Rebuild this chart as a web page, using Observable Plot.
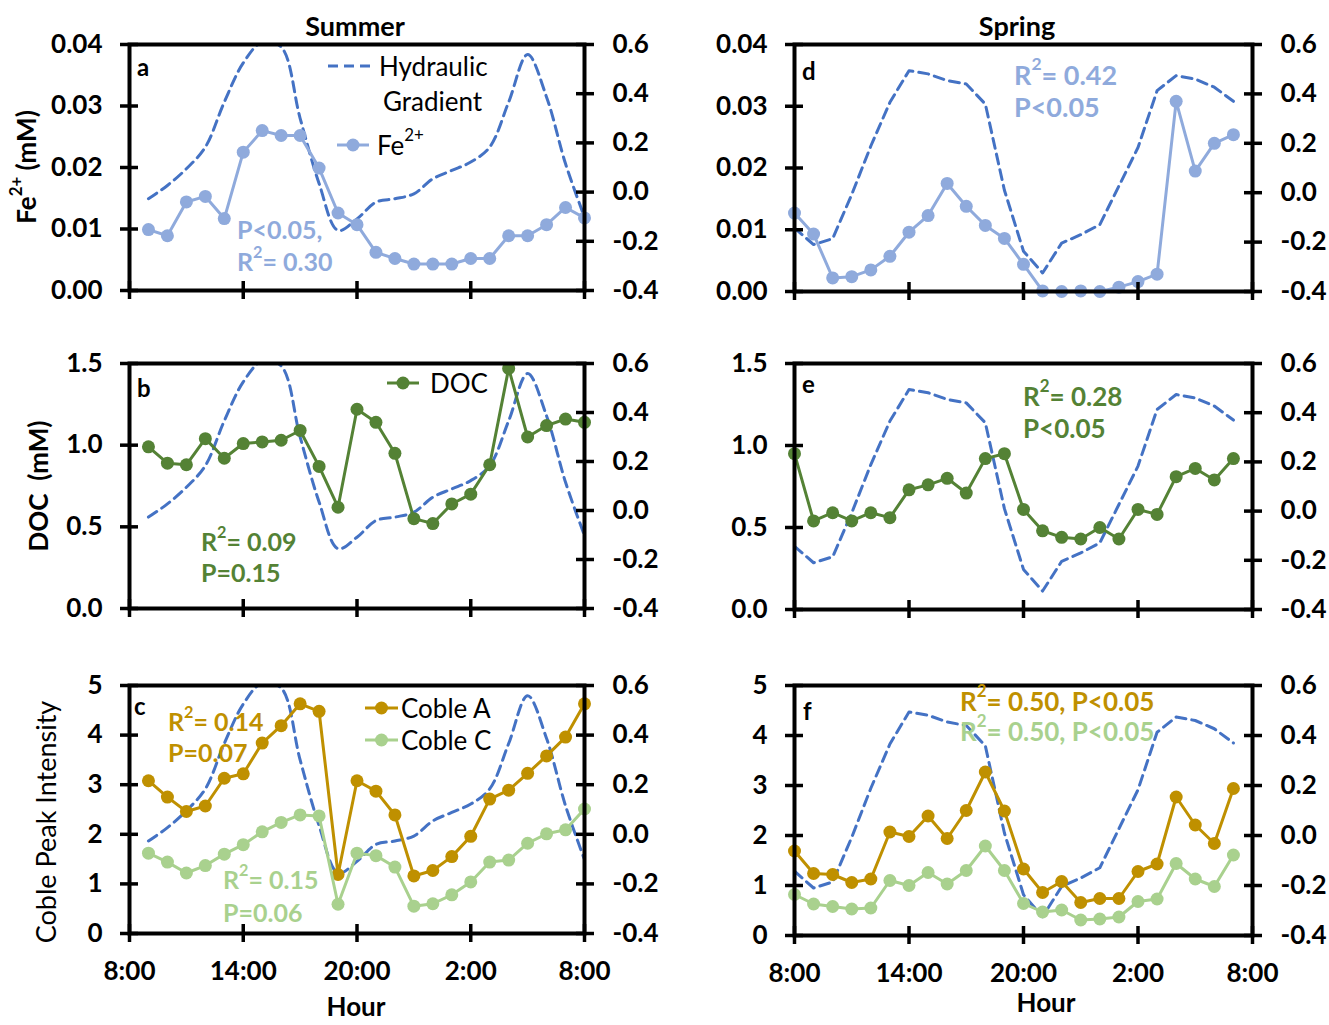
<!DOCTYPE html>
<html><head><meta charset="utf-8">
<script src="https://cdn.jsdelivr.net/npm/d3@7"></script>
<script src="https://cdn.jsdelivr.net/npm/@observablehq/plot@0.6"></script>
<style>
body{margin:0;background:#fff;}
#fig{position:relative;width:1329px;height:1025px;font-family:Lato,sans-serif;background:#fff;overflow:hidden;}
#fig svg{position:absolute;overflow:visible;}
</style></head><body><div id="fig"></div>
<script>
// ---------- data ----------
const summerHours = [9,10,11,12,13,14,15,16,17,18,19,20,21,22,23,24,25,26,27,28,29,30,31,32];
const springHours = [8,9,10,11,12,13,14,15,16,17,18,19,20,21,22,23,24,25,26,27,28,29,30,31];
const xTickHours = [8,14,20,26,32];
const hgTicks = [-0.4,-0.2,0,0.2,0.4,0.6];

const summerHG = [-0.027,0.027,0.095,0.183,0.366,0.525,0.61,0.59,0.30,0.035,-0.156,-0.109,-0.041,-0.027,-0.007,0.054,0.088,0.122,0.183,0.366,0.559,0.386,0.115,-0.102];
const springHG = [-0.143,-0.210,-0.186,-0.007,0.189,0.366,0.494,0.481,0.454,0.440,0.359,0.010,-0.237,-0.325,-0.204,-0.170,-0.129,0.027,0.183,0.413,0.474,0.460,0.427,0.370];

const summerFe = [0.0099,0.0089,0.0144,0.0153,0.0117,0.0225,0.0260,0.0252,0.0252,0.0199,0.0126,0.0107,0.0062,0.0052,0.0043,0.0043,0.0043,0.0052,0.0052,0.0089,0.0089,0.0107,0.0135,0.0118];
const springFe = [0.0127,0.0093,0.0022,0.0024,0.0035,0.0057,0.0096,0.0123,0.0175,0.0138,0.0107,0.0086,0.0044,0.0001,0.0000,0.0001,0.0000,0.0007,0.0016,0.0028,0.0308,0.0195,0.0240,0.0254];

const summerDOC = [0.99,0.89,0.88,1.04,0.92,1.01,1.02,1.03,1.09,0.87,0.62,1.22,1.14,0.95,0.55,0.52,0.64,0.70,0.88,1.47,1.05,1.12,1.16,1.14];
const springDOC = [0.95,0.54,0.59,0.54,0.59,0.56,0.73,0.76,0.80,0.71,0.92,0.95,0.61,0.48,0.44,0.43,0.50,0.43,0.61,0.58,0.81,0.86,0.79,0.92];

const summerCobleA = [3.08,2.75,2.46,2.57,3.13,3.22,3.84,4.19,4.63,4.48,1.19,3.08,2.87,2.39,1.16,1.27,1.55,1.96,2.71,2.89,3.23,3.58,3.96,4.63];
const summerCobleC = [1.62,1.44,1.22,1.37,1.60,1.79,2.05,2.24,2.39,2.37,0.59,1.62,1.57,1.34,0.55,0.60,0.78,1.04,1.44,1.48,1.82,2.01,2.09,2.51];
const springCobleA = [1.69,1.24,1.22,1.06,1.13,2.07,1.98,2.39,1.94,2.50,3.27,2.49,1.33,0.86,1.08,0.66,0.74,0.74,1.28,1.43,2.77,2.21,1.84,2.94];
const springCobleC = [0.82,0.63,0.58,0.53,0.55,1.10,1.00,1.26,1.03,1.30,1.79,1.30,0.64,0.47,0.51,0.31,0.33,0.37,0.68,0.73,1.44,1.13,0.98,1.61];

const feTicks = [0,0.01,0.02,0.03,0.04];
const docTicks = [0,0.5,1.0,1.5];
const cobleTicks = [0,1,2,3,4,5];

const C = {hg:"#4472C4", fe:"#8FAADC", doc:"#548235", a:"#BF9000", c:"#A9D18E"};

// ---------- panels ----------
const fig = document.getElementById("fig");
const FONT = "Lato, 'Open Sans', sans-serif";
const TICKFS = 26;
const blank = () => "";

function panel(o) {
  const yMax = o.yMax;
  const toLeft = v => (v - hgTicks[0]) / (hgTicks[hgTicks.length-1] - hgTicks[0]) * yMax;
  const fromLeft = d => d / yMax * (hgTicks[hgTicks.length-1] - hgTicks[0]) + hgTicks[0];
  const hgData = o.hours.map((h,i) => ({h, v: toLeft(o.hg[i])}));
  const marks = [
    Plot.line(hgData, {x:"h", y:"v", stroke:C.hg, strokeWidth:3, strokeDasharray:"10,6", curve:o.curve, clip:true})
  ];
  for (const s of o.series) {
    const data = o.hours.map((h,i) => ({h, v: s.values[i]}));
    marks.push(Plot.line(data, {x:"h", y:"v", stroke:s.color, strokeWidth:3}));
    marks.push(Plot.dot(data, {x:"h", y:"v", r:6.5, fill:s.color, stroke:null}));
  }
  const rTicks = hgTicks.map(toLeft);
  const tickStyle = {strokeWidth:3.5, stroke:"black", label:null, tickFormat:blank};
  const textStyle = {tickSize:0, label:null, fontSize:TICKFS, fontWeight:"bold", fill:"black"};
  marks.push(
    Plot.frame({stroke:"black", strokeWidth:4}),
    Plot.axisY({anchor:"left", ticks:o.yTicks, tickSize:18, dx:9, ...tickStyle}),
    Plot.axisY({anchor:"left", ticks:o.yTicks, tickFormat:o.yFmt, tickPadding:27, ...textStyle}),
    Plot.axisY({anchor:"right", ticks:rTicks, tickSize:18, dx:-9, ...tickStyle}),
    Plot.axisY({anchor:"right", ticks:rTicks, tickFormat:d => (Math.round(fromLeft(d)*10)/10).toFixed(1), tickPadding:28, ...textStyle}),
    Plot.axisX({anchor:"bottom", ticks:xTickHours, tickSize:18, dy:-9, ...tickStyle})
  );
  if (o.xLabels) {
    marks.push(Plot.axisX({anchor:"bottom", ticks:xTickHours, tickFormat:d => `${d % 24}:00`, tickPadding:28, ...textStyle}));
  }
  const el = Plot.plot({
    width:o.w, height:o.h,
    marginLeft:o.fx0 - o.left, marginRight:o.left + o.w - o.fx1,
    marginTop:o.fy0 - o.top, marginBottom:o.top + o.h - o.fy1,
    x:{domain:[8,32]},
    y:{domain:[0,yMax]},
    style:{fontFamily:FONT, fontSize:TICKFS + "px", color:"black", background:"transparent", overflow:"visible"},
    marks
  });
  el.style.left = o.left + "px";
  el.style.top = o.top + "px";
  fig.appendChild(el);
}

const f2 = d3.format(".2f"), f1 = d3.format(".1f"), f0 = d3.format("d");
const L = {left:0, w:665, fx0:129, fx1:584};
const R = {left:665, w:664, fx0:794, fx1:1252};

panel({...L, top:0, h:330, fy0:44, fy1:290, hours:summerHours, hg:summerHG, curve:"catmull-rom", yMax:0.04, yTicks:feTicks, yFmt:f2, series:[{values:summerFe, color:C.fe}]});
panel({...L, top:330, h:310, fy0:363, fy1:608, hours:summerHours, hg:summerHG, curve:"catmull-rom", yMax:1.5, yTicks:docTicks, yFmt:f1, series:[{values:summerDOC, color:C.doc}]});
panel({...L, top:640, h:385, fy0:685, fy1:933, hours:summerHours, hg:summerHG, curve:"catmull-rom", yMax:5, yTicks:cobleTicks, yFmt:f0, xLabels:true, series:[{values:summerCobleA, color:C.a},{values:summerCobleC, color:C.c}]});
panel({...R, top:0, h:330, fy0:44, fy1:291, hours:springHours, hg:springHG, curve:"linear", yMax:0.04, yTicks:feTicks, yFmt:f2, series:[{values:springFe, color:C.fe}]});
panel({...R, top:330, h:310, fy0:363, fy1:609, hours:springHours, hg:springHG, curve:"linear", yMax:1.5, yTicks:docTicks, yFmt:f1, series:[{values:springDOC, color:C.doc}]});
panel({...R, top:640, h:385, fy0:685, fy1:935, hours:springHours, hg:springHG, curve:"linear", yMax:5, yTicks:cobleTicks, yFmt:f0, xLabels:true, series:[{values:springCobleC, color:C.c},{values:springCobleA, color:C.a}]});

// ---------- overlay text: titles, axis labels, legends, annotations ----------
const ov = d3.select(fig).append("svg").attr("width",1329).attr("height",1025)
  .style("left","0px").style("top","0px").style("font-family",FONT).style("pointer-events","none");

function txt(x, y, parts, {size=26, weight="bold", fill="black", anchor="start", rotate=0}={}) {
  const t = ov.append("text").attr("x",x).attr("y",y).attr("font-size",size).attr("font-weight",weight)
    .attr("fill",fill).attr("text-anchor",anchor).attr("dominant-baseline","central").attr("xml:space","preserve");
  if (rotate) t.attr("transform",`rotate(${rotate},${x},${y})`);
  for (const p of (Array.isArray(parts) ? parts : [parts])) {
    if (typeof p === "string") t.append("tspan").text(p);
    else t.append("tspan").attr("font-size",size*0.65).attr("baseline-shift","super").text(p.sup);
  }
  return t;
}
const R2 = rest => ["R", {sup:"2"}, rest];

txt(355, 25, "Summer", {anchor:"middle", size:27});
txt(1017, 25, "Spring", {anchor:"middle", size:27});
txt(26, 167, ["Fe", {sup:"2+"}, " (mM)"], {anchor:"middle", rotate:-90});
txt(38, 486, "DOC\u00A0 (mM)", {anchor:"middle", rotate:-90});
txt(45, 822, "Coble Peak Intensity", {anchor:"middle", rotate:-90, weight:"normal", size:27});
txt(356, 1006, "Hour", {anchor:"middle", size:26});
txt(1046, 1002, "Hour", {anchor:"middle", size:26});

// panel letters
txt(137, 66, "a", {size:24}); txt(137, 387, "b", {size:24}); txt(134, 705, "c", {size:24});
txt(802, 70, "d", {size:24}); txt(802, 383, "e", {size:24}); txt(803, 710, "f", {size:24});

// legends
function legendLine(x1, x2, y, color, dashed, dot) {
  const l = ov.append("line").attr("x1",x1).attr("x2",x2).attr("y1",y).attr("y2",y).attr("stroke",color).attr("stroke-width",3);
  if (dashed) l.attr("stroke-dasharray","10,6");
  if (dot) ov.append("circle").attr("cx",(x1+x2)/2).attr("cy",y).attr("r",6.5).attr("fill",color);
}
legendLine(328, 370, 66, C.hg, true, false);
txt(379, 66, "Hydraulic", {weight:"normal", size:26});
txt(383, 101, "Gradient", {weight:"normal", size:26});
legendLine(337, 369, 145, C.fe, false, true);
txt(377, 145, ["Fe", {sup:"2+"}], {weight:"normal", size:26});

legendLine(387, 419, 383, C.doc, false, true);
txt(430, 383, "DOC", {weight:"normal", size:26});

legendLine(365, 398, 708, C.a, false, true);
txt(401, 708, "Coble A", {weight:"normal", size:26});
legendLine(365, 398, 740, C.c, false, true);
txt(401, 740, "Coble C", {weight:"normal", size:26});

// annotations
txt(237, 229, "P<0.05,", {fill:C.fe, size:25});
txt(237, 261, R2("= 0.30"), {fill:C.fe, size:25});
txt(201, 541, R2("= 0.09"), {fill:C.doc, size:25});
txt(201, 572, "P=0.15", {fill:C.doc, size:25});
txt(168, 721, R2("= 0.14"), {fill:C.a, size:25});
txt(168, 752, "P=0.07", {fill:C.a, size:25});
txt(223, 879, R2("= 0.15"), {fill:C.c, size:25});
txt(223, 912, "P=0.06", {fill:C.c, size:25});
txt(1014, 74, R2("= 0.42"), {fill:C.fe, size:27});
txt(1014, 106, "P<0.05", {fill:C.fe, size:27});
txt(1023, 396, R2("= 0.28"), {fill:C.doc, size:26});
txt(1023, 428, "P<0.05", {fill:C.doc, size:26});
txt(960, 701, R2("= 0.50, P<0.05"), {fill:C.a, size:26});
txt(960, 731, R2("= 0.50, P<0.05"), {fill:C.c, size:26});
</script></body></html>
